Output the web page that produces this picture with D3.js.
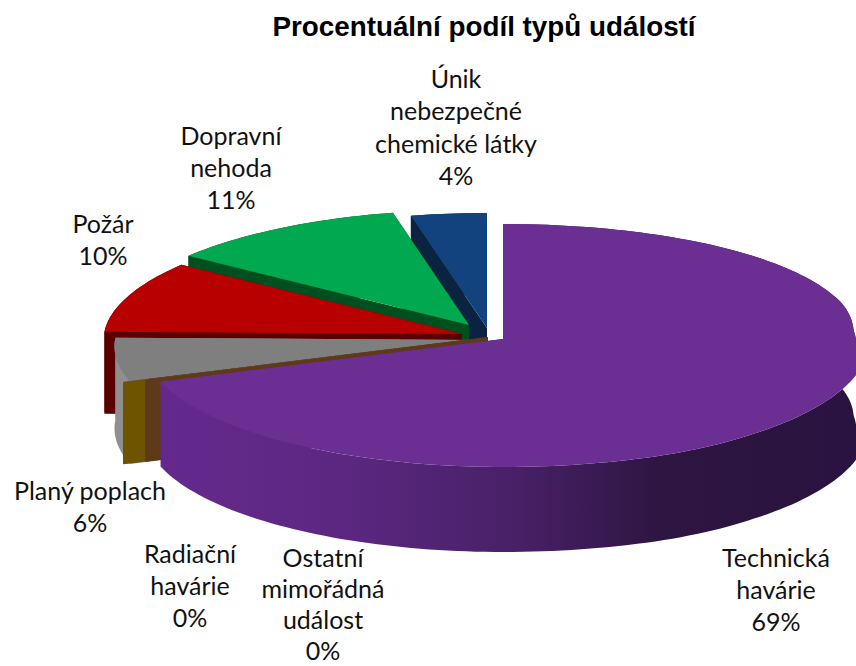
<!DOCTYPE html>
<html>
<head>
<meta charset="utf-8">
<script src="https://cdn.jsdelivr.net/npm/d3@7"></script>
<style>
  html, body { margin: 0; padding: 0; background: #fff; }
  svg { display: block; }
  .label { font-family: Lato, "Open Sans", sans-serif; font-size: 25px; fill: #111; text-anchor: middle; }
  .title { font-family: "Liberation Sans", Arial, sans-serif; font-size: 27.8px; font-weight: bold; fill: #000; text-anchor: middle; }
</style>
</head>
<body>
<svg id="chart" width="856" height="666"></svg>
<script>
// values; the two "0%" slices are tiny but not empty
const categories = ["Technická havárie", "Ostatní mimořádná událost", "Radiační havárie", "Planý poplach", "Požár", "Dopravní nehoda", "Únik nebezpečné chemické látky"];
const values = [69.4, 0.05, 0.05, 5.8, 9.7, 11.4, 3.6];
const percentLabels = ["69%", "0%", "0%", "6%", "10%", "11%", "4%"];

// colours per slice
const topColors = ["#6b2f93", "#5a4a3a", "#5a4a3a", "#7f7f7f", "#b90000", "#00a84f", "#13437f"];
const faceColors = ["#64298c", "#5f3a1a", "#6e5400", "#8f8f8f", "#5a0000", "#00501f", "#0a2340"];

// where each slice's tip sits on the page (exploded pie)
const tips = [[503, 339], [488, 337], [466, 340], [473, 340], [462, 334], [469, 325], [487, 328]];
const depths = [85, 82, 82, 82, 82, 82, 82];

// label placement: centre x, first line y, line step
const labelLines = [
  ["Technická", "havárie"],
  ["Ostatní", "mimořádná", "událost"],
  ["Radiační", "havárie"],
  ["Planý poplach"],
  ["Požár"],
  ["Dopravní", "nehoda"],
  ["Únik", "nebezpečné", "chemické látky"]
];
const labelAnchor = [[776, 567], [323, 567], [190, 563], [90, 500], [103, 233], [231, 145], [456, 88]];
const labelStep = [32, 31, 32, 32, 32, 32, 32.3];

const ry = 121.5, persp = 0.0535;

const svg = d3.select("#chart");
const defs = svg.append("defs");

// purple wall gets darker to the right
const sideStops = [[161, "#65298e"], [350, "#5b2780"], [520, "#472066"], [660, "#2e1542"], [856, "#2a1340"]];
let sideGrad = defs.append("linearGradient")
  .attr("id", "purpleSide")
  .attr("gradientUnits", "userSpaceOnUse")
  .attr("x1", 161).attr("x2", 856).attr("y1", 0).attr("y2", 0);
sideStops.forEach(s => {
  sideGrad.append("stop").attr("offset", (s[0] - 161) / (856 - 161)).attr("stop-color", s[1]);
});

svg.append("text").attr("class", "title")
  .attr("x", 484).attr("y", 36)
  .text("Procentuální podíl typů událostí");

const arcs = d3.pie().sort(null).value(d => d)(values);

// right side of the source render bulges towards the viewer, this follows its outline
const nearWiden = d3.scaleLinear()
  .domain([-0.29, -0.07, 0.1, 0.29, 0.51, 0.75, 0.92])
  .range([1, 0.99, 1, 1.039, 1.05, 1.067, 1.1])
  .clamp(true);

// angle on the disc -> page point
function project(tip, angle, drop) {
  const yy = -Math.cos(angle), sx = Math.sin(angle);
  const s = 1 + persp * yy;
  const wide = sx < 0 ? 358 * s : 355 * nearWiden(yy);
  return [tip[0] + wide * sx, tip[1] + ry * yy * s + (drop || 0)];
}

function arcPoints(tip, a0, a1, drop) {
  const n = Math.max(2, Math.ceil((a1 - a0) * 40));
  return d3.range(n + 1).map(i => project(tip, a0 + (a1 - a0) * i / n, drop));
}

const line = d3.line().curve(d3.curveLinear);
const closed = pts => line(pts) + "Z";

// painter's order: back of the pie first, the big purple slice last
const order = [6, 5, 4, 3, 2, 1, 0];

order.forEach(i => {
  const d = arcs[i], tip = tips[i], depth = depths[i];
  const g = svg.append("g");
  const fill = i === 0 ? "url(#purpleSide)" : faceColors[i];
  const down = [tip[0], tip[1] + depth];

  // cut faces
  [d.startAngle, d.endAngle].forEach(a => {
    if (i === 0 && a === d.startAngle) return;
    const p = project(tip, a), q = project(tip, a, depth);
    g.append("path").attr("d", closed([tip, p, q, down])).attr("fill", fill);
  });

  // outer wall
  const upper = arcPoints(tip, d.startAngle, d.endAngle);
  const lower = arcPoints(tip, d.startAngle, d.endAngle, depth).reverse();
  g.append("path").attr("d", closed(upper.concat(lower))).attr("fill", fill);

  // top
  g.append("path").attr("d", closed([tip].concat(upper))).attr("fill", topColors[i]);
});

categories.forEach((c, i) => {
  const lines = labelLines[i].concat(percentLabels[i]);
  const t = svg.append("text").attr("class", "label");
  lines.forEach((s, k) => {
    t.append("tspan")
      .attr("x", labelAnchor[i][0])
      .attr("y", labelAnchor[i][1] + k * labelStep[i])
      .text(s);
  });
});
</script>
</body>
</html>
